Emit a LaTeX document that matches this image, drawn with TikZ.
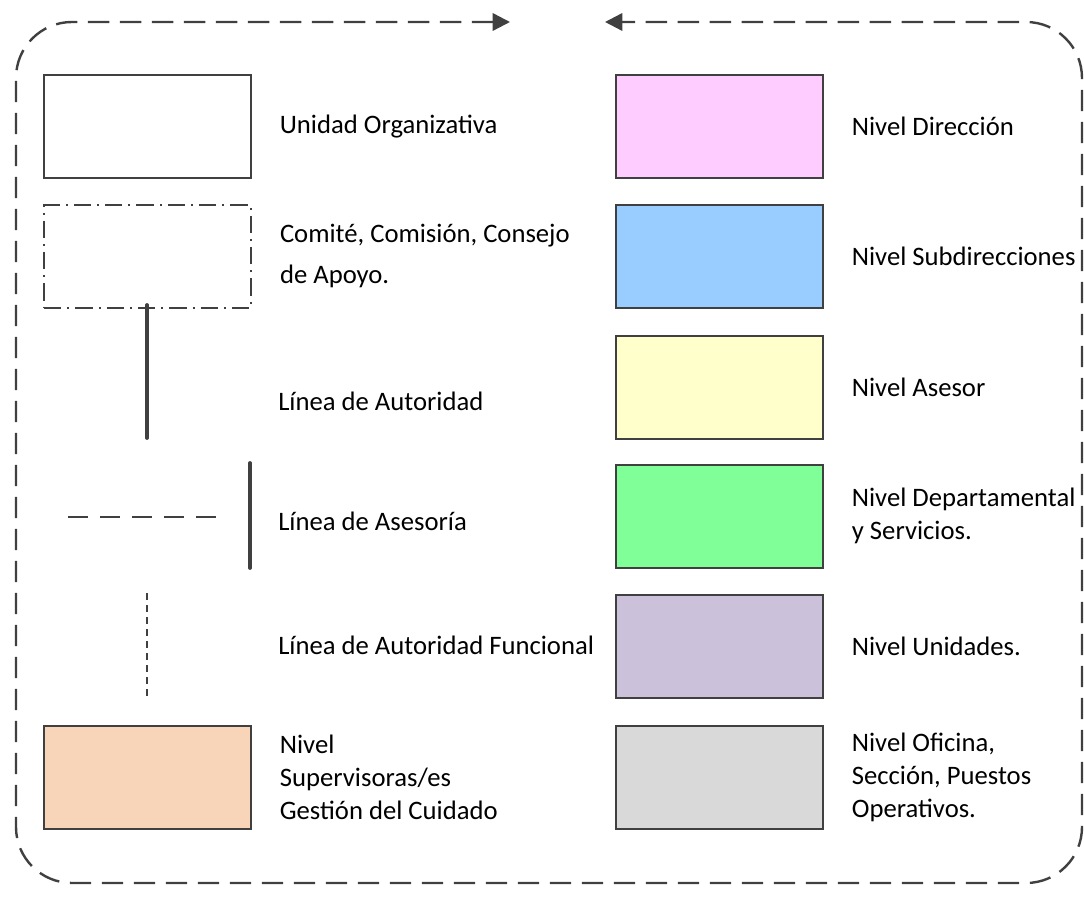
\documentclass[tikz,border=0pt]{standalone}
\usepackage{fontspec}
\setmainfont{Carlito}
\usetikzlibrary{arrows.meta}

\definecolor{dir}{HTML}{FFCCFF}
\definecolor{sub}{HTML}{99CCFF}
\definecolor{ase}{HTML}{FFFFCC}
\definecolor{dep}{HTML}{80FF99}
\definecolor{uni}{HTML}{CCC1DA}
\definecolor{ofi}{HTML}{D9D9D9}
\definecolor{sup}{HTML}{F8D5B8}
\definecolor{edge}{HTML}{404040}

\begin{document}
\begin{tikzpicture}[x=0.75pt,y=-0.75pt,
  box/.style={draw=edge,line width=1.2pt,minimum width=155.25pt,minimum height=77.25pt,inner sep=0pt,anchor=north west},
  lbl/.style={anchor=west,align=left,font=\fontsize{20}{24.75}\selectfont,inner sep=0pt},
  solidln/.style={draw=edge,line width=2.8pt,line cap=round},
  frame/.style={draw=edge,line width=1.8pt,dash pattern=on 16pt off 8pt,rounded corners=42pt,{Triangle[length=13pt,width=13pt]}-{Triangle[length=13pt,width=13pt]}}]
\useasboundingbox (0,0) rectangle (1084,905);

%frame
\coordinate (fl) at (510,22);
\coordinate (fr) at (605,22);
\draw[frame] (fl) -- (16,22) -- (16,883) -- (1082,883) -- (1082,22) -- (fr);

%left column
\node[box] (uo) at (43,74) {};
\node[lbl] (uot) at ([xshift=21pt]uo.east) {Unidad Organizativa};

\node[box,line width=1.3pt,dash pattern=on 13pt off 4.5pt on 1.5pt off 4.5pt] (com) at (43,204) {};
\node[lbl] (comt) at ([xshift=21pt]com.east) {Comité, Comisión, Consejo\\[6pt]de Apoyo.};

\coordinate (aut1) at (147,305);
\coordinate (aut2) at (147,438);
\draw[solidln] (aut1) -- (aut2);
\node[lbl] (autt) at (278,401) {Línea de Autoridad};

\coordinate (as1) at (68,517);
\coordinate (as2) at (218,517);
\coordinate (as3) at (250,463);
\coordinate (as4) at (250,568);
\draw[draw=edge,line width=2pt,dash pattern=on 15pt off 9pt] (as1) -- (as2);
\draw[solidln] (as3) -- (as4);
\node[lbl] (ast) at (278,521) {Línea de Asesoría};

\coordinate (fun1) at (147,593);
\coordinate (fun2) at (147,698);
\draw[draw=edge,line width=1.9pt,dash pattern=on 5pt off 4pt] (fun1) -- (fun2);
\node[lbl] (funt) at (278,645) {Línea de Autoridad Funcional};

\node[box,fill=sup] (sup) at (43,725) {};
\node[lbl] (supt) at ([xshift=21pt]sup.east) {Nivel\\Supervisoras/es\\Gestión del Cuidado};

%right column
\foreach \y/\col/\txt [count=\i] in {74/dir/{Nivel Dirección}, 204/sub/{Nivel Subdirecciones},
    335/ase/{Nivel Asesor}, 464/dep/{Nivel Departamental\\y Servicios.},
    594/uni/{Nivel Unidades.}, 725/ofi/{Nivel Oficina,\\Sección, Puestos\\Operativos.}} {
  \node[box,fill=\col] (r\i) at (615,\y) {};
  \node[lbl] (rt\i) at ([xshift=21pt]r\i.east) {\txt};
}
\end{tikzpicture}
\end{document}
